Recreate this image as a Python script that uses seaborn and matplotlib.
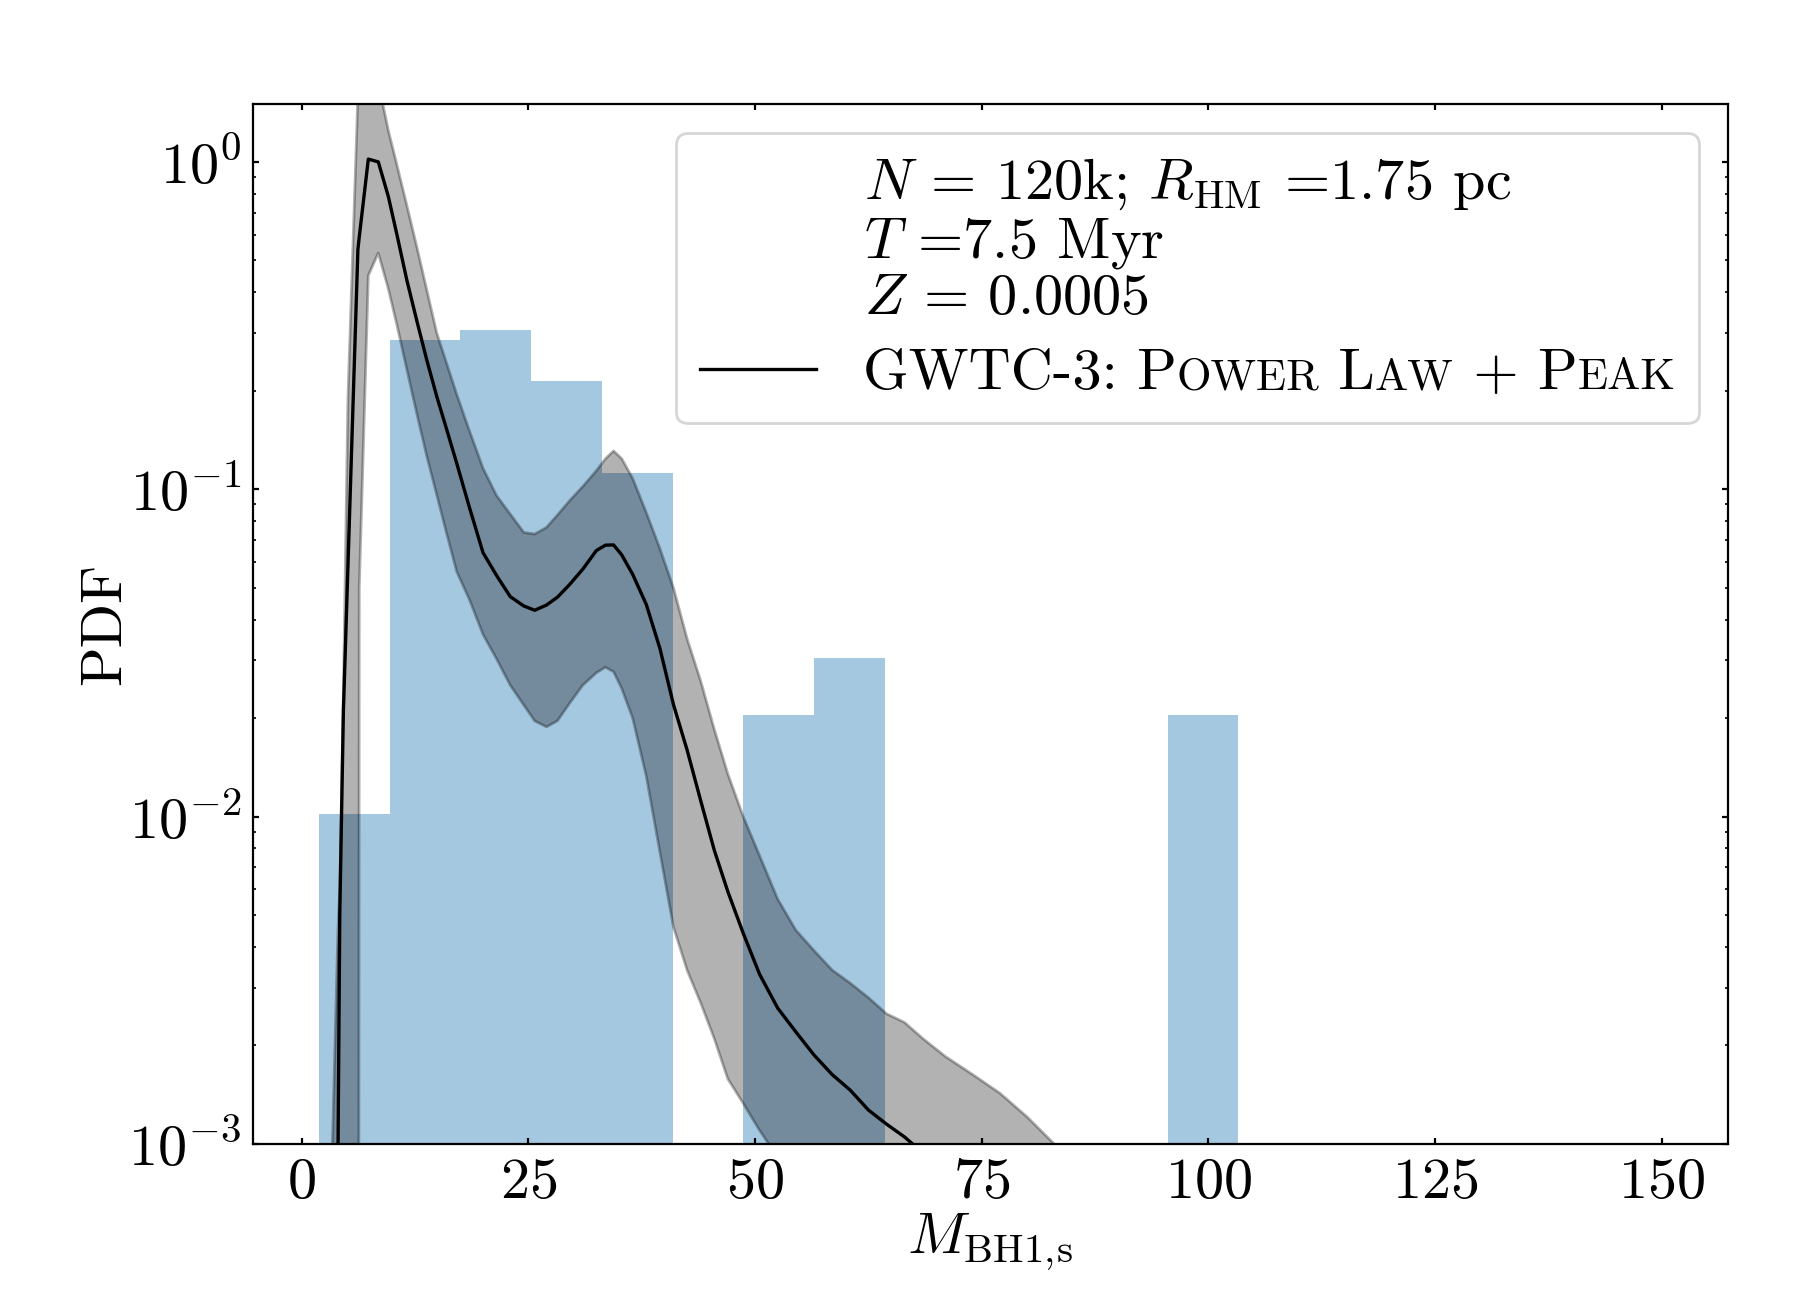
import numpy as np
import matplotlib
matplotlib.use("Agg")
import matplotlib.pyplot as plt
import seaborn as sns
from matplotlib.offsetbox import TextArea, HPacker

# simulated primary BH masses: number of systems per bin (13 equal bins)
hist_min, hist_max, n_bins = 1.9, 103.3, 13
bin_counts = [1, 28, 30, 21, 11, 0, 2, 3, 0, 0, 0, 0, 2]

# GWTC-3 Power Law + Peak: median and 90% band
mass_grid = [2.9, 4.0, 4.2, 4.6, 5.1, 6.2, 6.35, 7.35, 8.45, 9.55,
             10.5, 11.6, 12.7, 13.8, 14.9, 16.0, 17.1, 18.5, 20.0, 21.5,
             23.0, 24.5, 25.7, 27.0, 28.2, 29.5, 31.0, 32.5, 33.5, 34.4,
             35.3, 36.5, 38.0, 39.5, 41.0, 42.5, 44.0, 45.5, 47.0, 48.7,
             50.5, 52.5, 54.5, 56.5, 58.5, 60.5, 62.5, 64.5, 66.5, 68.5,
             71.0, 74.0, 77.0, 80.0, 83.0, 86.0, 90.0, 100.0, 120.0, 150.0]
pdf_median = [1e-6, 9e-4, 0.005, 0.021, 0.058, 0.54, 0.59, 1.02, 1.00, 0.785,
              0.60, 0.435, 0.327, 0.248, 0.192, 0.152, 0.12, 0.088, 0.064, 0.0545,
              0.047, 0.044, 0.0427, 0.0443, 0.0468, 0.051, 0.057, 0.065, 0.0675, 0.0676,
              0.063, 0.055, 0.0445, 0.0327, 0.022, 0.016, 0.0112, 0.0079, 0.0059, 0.0044,
              0.0033, 0.0026, 0.0022, 0.00187, 0.00163, 0.00146, 0.00127, 0.00115, 0.00105, 0.00094,
              0.00083, 0.0007, 0.0006, 0.0005, 0.00042, 0.00036, 0.0003, 0.00018, 7e-5, 2e-5]
pdf_high = [3e-4, 0.0045, 0.006, 0.024, 0.19, 1.6, 1.75, 2.1, 1.75, 1.25,
            0.98, 0.736, 0.55, 0.406, 0.30, 0.242, 0.195, 0.151, 0.116, 0.0956,
            0.084, 0.0738, 0.073, 0.0765, 0.0834, 0.092, 0.102, 0.114, 0.124, 0.131,
            0.124, 0.108, 0.085, 0.066, 0.050, 0.035, 0.026, 0.0185, 0.0135, 0.0100,
            0.0076, 0.0056, 0.0045, 0.0039, 0.0034, 0.0031, 0.0028, 0.0025, 0.00235, 0.0021,
            0.00185, 0.00163, 0.00143, 0.00121, 0.00100, 0.0008, 0.0006, 0.0003, 1e-4, 3e-5]
pdf_low = [1e-7, 1e-7, 1e-7, 1e-7, 1e-7, 1e-7, 0.05, 0.45, 0.527, 0.41,
           0.318, 0.232, 0.17, 0.126, 0.096, 0.073, 0.056, 0.046, 0.036, 0.0303,
           0.0252, 0.0219, 0.0196, 0.0188, 0.0196, 0.0221, 0.0252, 0.0275, 0.0286, 0.0277,
           0.0246, 0.0200, 0.0133, 0.0078, 0.0046, 0.0034, 0.0027, 0.0021, 0.00158, 0.00133,
           0.00110, 0.00091, 0.00078, 0.00066, 0.00056, 0.00048, 0.0004, 0.00034, 0.00029, 0.00025,
           0.0002, 0.00016, 0.00013, 0.0001, 8e-5, 6.5e-5, 5e-5, 2.5e-5, 6e-6, 1e-6]

x_ticks = [0, 25, 50, 75, 100, 125, 150]
legend_title = "$N$ = 120k; $R_{\\rm HM}$ =1.75 pc\n$T$ =7.5 Myr\n$Z$ = 0.0005"
# small-caps label pieces: (text, fontsize)
label_pieces = [("GWTC-3: P", 21), ("OWER", 16), (" L", 21), ("AW", 16), (" + P", 21), ("EAK", 16)]

plt.rcParams.update({
    "font.family": "serif",
    "font.serif": ["cmr10"],
    "mathtext.fontset": "cm",
    "axes.formatter.use_mathtext": True,
    "axes.linewidth": 0.8,
})

fig, ax = plt.subplots(figsize=(9, 6.5), dpi=200)
fig.subplots_adjust(left=0.1404, right=0.96, bottom=0.12, top=0.9198)

bin_width = (hist_max - hist_min) / n_bins
bin_centers = hist_min + bin_width * (np.arange(n_bins) + 0.5)
sns.histplot(x=bin_centers, weights=bin_counts, binwidth=bin_width,
             binrange=(hist_min, hist_max), stat="probability",
             color="tab:blue", alpha=0.4, linewidth=0, ax=ax)

ax.fill_between(mass_grid, pdf_low, pdf_high, color="k", alpha=0.3)
sns.lineplot(x=mass_grid, y=pdf_median, color="k", linewidth=1.2,
             label="GWTC-3: Power Law + Peak", ax=ax)

ax.set_yscale("log")
ax.set_ylim(1e-3, 1.5)
ax.set_xlim(-5.4, 157.3)
ax.set_xticks(x_ticks)
ax.tick_params(which="both", direction="in", top=True, right=True)
ax.tick_params(which="major", length=2.2, labelsize=21)
ax.tick_params(which="minor", length=1.2)
ax.tick_params(axis="x", pad=5)
ax.tick_params(axis="y", pad=4)

ax.set_xlabel(r"$M_{\rm BH1,\!s}$", fontsize=21, labelpad=1)
ax.set_ylabel("PDF", fontsize=21, labelpad=-1)

leg = ax.legend(title=legend_title, loc="upper right", fontsize=21, title_fontsize=21,
                labelspacing=0.4)
leg.get_title().set_linespacing(1.08)

# swap the plain label for a small-caps version built from text pieces
item = leg._legend_handle_box.get_children()[0].get_children()[0]
parts = [TextArea(s, textprops=dict(fontsize=fs)) for s, fs in label_pieces]
label_box = HPacker(children=parts, align="baseline", pad=0, sep=0)
label_box.set_figure(fig)
item._children[1] = label_box

plt.savefig("out.png", dpi=200)
